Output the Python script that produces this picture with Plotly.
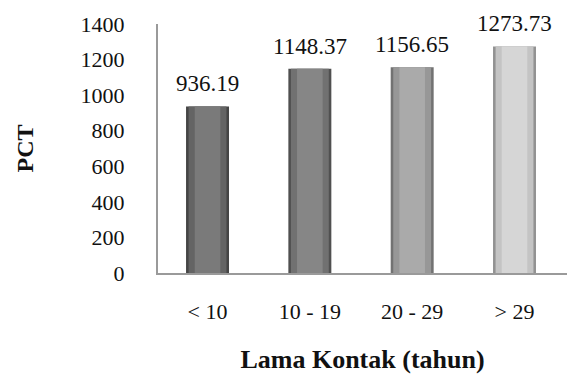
import plotly.graph_objects as go

# Data
categories = ["< 10", "10 - 19", "20 - 29", "> 29"]
pct_values = [936.19, 1148.37, 1156.65, 1273.73]
y_ticks = [0, 200, 400, 600, 800, 1000, 1200, 1400]

# Gray shades per bar: edge, body, centre highlight (cylinder-like shading)
edge_colors = ["#454545", "#505050", "#727272", "#929292"]
body_colors = ["#646464", "#717171", "#979797", "#c4c4c4"]
core_colors = ["#7a7a7a", "#868686", "#aaaaaa", "#d6d6d6"]

FONT = "Liberation Serif, Times New Roman, serif"

fig = go.Figure()
for colors, width in [(edge_colors, 0.42), (body_colors, 0.37), (core_colors, 0.25)]:
    fig.add_trace(go.Bar(
        x=categories, y=pct_values, width=width,
        marker=dict(color=colors, line=dict(width=0)),
        hoverinfo="skip", showlegend=False,
    ))

# Value labels above each bar
for cat, val in zip(categories, pct_values):
    fig.add_annotation(
        x=cat, y=val, text=f"{val:.2f}", showarrow=False,
        yanchor="bottom", yshift=8,
        font=dict(family=FONT, size=23, color="#111111"),
    )

fig.update_layout(
    width=567, height=374,
    margin=dict(l=158, r=0, t=24, b=101),
    paper_bgcolor="white", plot_bgcolor="white",
    barmode="overlay",
    font=dict(family=FONT, size=22, color="#111111"),
    xaxis=dict(
        type="category", range=[-0.484, 3.513],
        showline=True, linecolor="#9a9a9a", linewidth=2,
        showgrid=False, ticks="", ticklabelstandoff=18,
        tickfont=dict(family=FONT, size=22),
        title=dict(text="<b>Lama Kontak (tahun)</b>", standoff=29,
                   font=dict(family=FONT, size=26)),
    ),
    yaxis=dict(
        range=[0, 1400], tickvals=y_ticks,
        showline=True, linecolor="#9a9a9a", linewidth=2,
        showgrid=False, zeroline=False, ticks="", ticklabelstandoff=27,
        tickfont=dict(family=FONT, size=22),
        title=dict(text="<b>PCT</b>", standoff=40,
                   font=dict(family=FONT, size=24)),
    ),
)

fig.write_html("out.html")
